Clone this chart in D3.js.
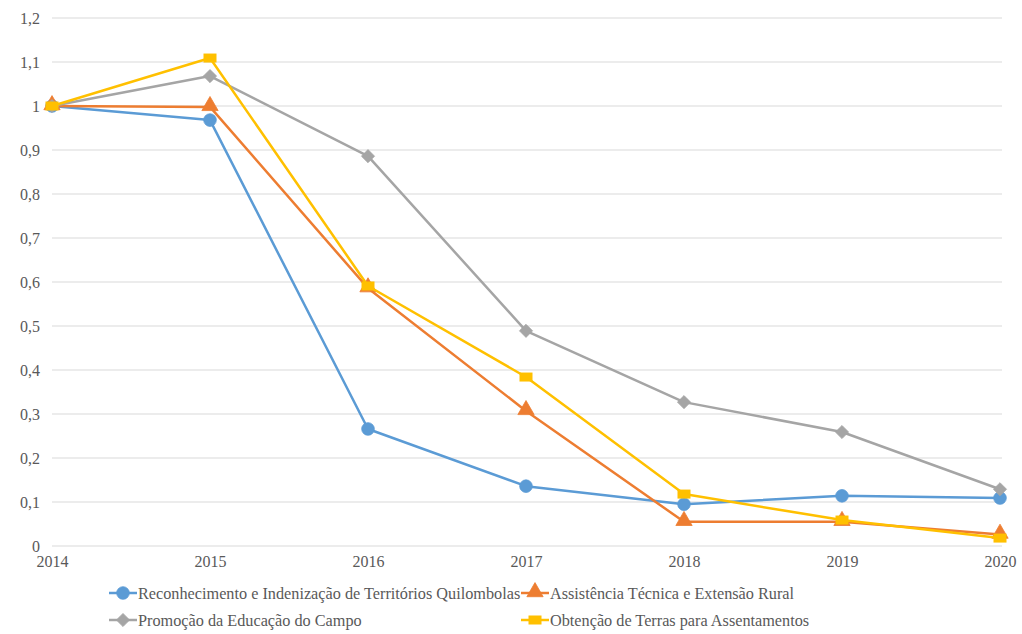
<!DOCTYPE html>
<html>
<head>
<meta charset="utf-8">
<script src="https://cdn.jsdelivr.net/npm/d3@7"></script>
<style>
  html, body { margin: 0; padding: 0; background: #fff; }
  svg { display: block; }
</style>
</head>
<body>
<svg id="chart" width="1022" height="634"></svg>
<script>
// Years on the x axis
const years = [2014, 2015, 2016, 2017, 2018, 2019, 2020];

// Index values per programme (2014 = 1)
const quilombolas = [1.000, 0.968, 0.266, 0.136, 0.095, 0.114, 0.109];
const assistencia = [1.000, 0.998, 0.586, 0.307, 0.055, 0.055, 0.026];
const educacao    = [1.000, 1.068, 0.886, 0.489, 0.327, 0.259, 0.129];
const terras      = [1.000, 1.109, 0.591, 0.384, 0.118, 0.059, 0.018];

const seriesNames = [
  "Reconhecimento e Indenização de Territórios Quilombolas",
  "Assistência Técnica e Extensão Rural",
  "Promoção da Educação do Campo",
  "Obtenção de Terras para Assentamentos"
];

const yTicks = [0, 0.1, 0.2, 0.3, 0.4, 0.5, 0.6, 0.7, 0.8, 0.9, 1, 1.1, 1.2];

const FONT = "Liberation Serif";
const TEXT_COLOR = "#595959";

const series = [
  { name: seriesNames[0], values: quilombolas, color: "#5b9bd5", symbol: d3.symbolCircle,   size: 125 },
  { name: seriesNames[1], values: assistencia, color: "#ed7d31", symbol: d3.symbolTriangle, size: 115 },
  { name: seriesNames[2], values: educacao,    color: "#a5a5a5", symbol: d3.symbolDiamond2, size: 110 },
  { name: seriesNames[3], values: terras,      color: "#ffc000", symbol: "rect",            size: 0 }
];

const svg = d3.select("#chart");
const plotLeft = 52, plotRight = 1000, plotTop = 18, plotBottom = 546;

const x = d3.scaleLinear().domain([2014, 2020]).range([plotLeft, plotRight]);
const y = d3.scaleLinear().domain([0, 1.2]).range([plotBottom, plotTop]);

// Slightly condensed serif text, as in the original export
function condense(sel, factor) {
  sel.each(function () {
    const w = this.getComputedTextLength();
    d3.select(this).attr("textLength", w * factor).attr("lengthAdjust", "spacingAndGlyphs");
  });
}

// Horizontal gridlines
svg.append("g")
  .selectAll("line")
  .data(yTicks)
  .join("line")
  .attr("x1", plotLeft).attr("x2", plotRight + 2)
  .attr("y1", d => y(d)).attr("y2", d => y(d))
  .attr("stroke", "#e6e6e6")
  .attr("stroke-width", 1.3);

// Y axis labels (decimal comma)
const fmt = d => d3.format(".1f")(d).replace(/\.0$/, "").replace(".", ",");
const yAxis = d3.axisLeft(y).tickValues(yTicks).tickSize(0).tickPadding(0).tickFormat(fmt);
const gy = svg.append("g").attr("transform", `translate(${plotLeft - 12},0)`).call(yAxis);
gy.attr("font-family", FONT).attr("font-size", 16);
gy.select(".domain").remove();
gy.selectAll("text").attr("fill", TEXT_COLOR);

// X axis labels
const xAxis = d3.axisBottom(x).tickValues(years).tickSize(0).tickPadding(0).tickFormat(d3.format("d"));
const gx = svg.append("g").attr("transform", `translate(0,${plotBottom + 10})`).call(xAxis);
gx.attr("font-family", FONT).attr("font-size", 16);
gx.select(".domain").remove();
gx.selectAll("text").attr("fill", TEXT_COLOR);

// Marker drawing helper
function drawMarker(sel, s) {
  if (s.symbol === "rect") {
    sel.append("rect")
      .attr("x", -6.5).attr("y", -4.5).attr("width", 13).attr("height", 9)
      .attr("fill", s.color);
  } else {
    const dy = s.symbol === d3.symbolTriangle ? -1 : 0;
    sel.append("path")
      .attr("transform", `translate(0,${dy})`)
      .attr("d", d3.symbol().type(s.symbol).size(s.size)())
      .attr("fill", s.color)
      .attr("stroke", s.color)
      .attr("stroke-width", 0.8)
      .attr("stroke-linejoin", "round");
  }
}

const line = d3.line().x((d, i) => x(years[i])).y(d => y(d));

series.forEach(s => {
  const g = svg.append("g");
  g.append("path")
    .datum(s.values)
    .attr("d", line)
    .attr("fill", "none")
    .attr("stroke", s.color)
    .attr("stroke-width", 2.5)
    .attr("stroke-linejoin", "round");
  g.selectAll("g.pt")
    .data(s.values)
    .join("g")
    .attr("class", "pt")
    .attr("transform", (d, i) => `translate(${x(years[i])},${y(d)})`)
    .each(function () { drawMarker(d3.select(this), s); });
});

// Legend (two rows, two columns)
const legendPos = [
  { lx: 109, ly: 593 }, { lx: 521, ly: 593 },
  { lx: 109, ly: 620 }, { lx: 521, ly: 620 }
];
series.forEach((s, i) => {
  const p = legendPos[i];
  const g = svg.append("g").attr("transform", `translate(${p.lx},${p.ly})`);
  g.append("line").attr("x1", 0).attr("x2", 28).attr("y1", 0).attr("y2", 0)
    .attr("stroke", s.color).attr("stroke-width", 2.5);
  drawMarker(g.append("g").attr("transform", "translate(14,0)"), s);
  g.append("text")
    .attr("x", 29).attr("y", 5.5)
    .attr("font-family", FONT)
    .attr("font-size", 17)
    .attr("fill", TEXT_COLOR)
    .text(s.name)
    .call(condense, 0.955);
});
</script>
</body>
</html>
